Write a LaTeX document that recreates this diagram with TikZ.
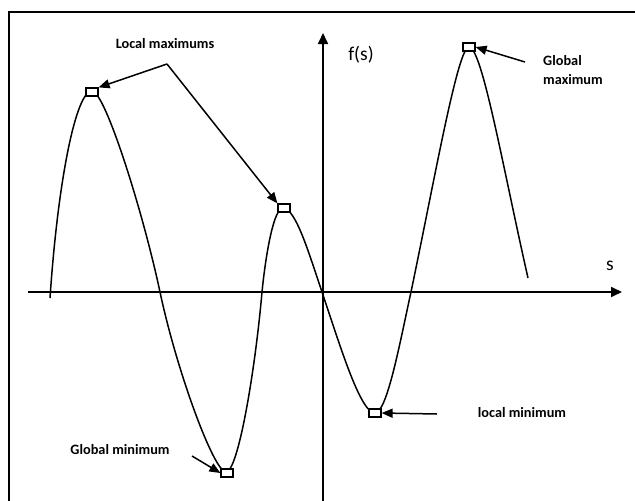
\documentclass[tikz,border=0pt]{standalone}
\usepackage{fontspec}
\setmainfont{Carlito}
\usetikzlibrary{arrows.meta}
\begin{document}
\begin{tikzpicture}[x=1pt,y=-1pt,
  frame/.style={line width=1.8pt},
  axis/.style={line width=1.7pt,-{Triangle[length=11pt,width=10pt]}},
  curve/.style={line width=1.5pt},
  marker/.style={draw,fill=white,line width=1.2pt,minimum width=12pt,minimum height=8pt,inner sep=0pt},
  arr/.style={line width=1.5pt,-{Triangle[length=11pt,width=9pt]}},
  lbl/.style={font=\fontsize{14.3}{19}\selectfont\bfseries,inner sep=0pt},
  axlbl/.style={font=\fontsize{19.5}{21}\selectfont,inner sep=0pt}]
\useasboundingbox (0,0) rectangle (635,501);
% partial frame
\draw[frame] (9,501) -- (9,12) -- (635,12);
% axes
\coordinate (xs) at (28,292);
\coordinate (xe) at (622,292);
\coordinate (ys) at (323,501);
\coordinate (ye) at (323,33);
\draw[axis] (xs) -- (xe);
\draw[axis] (ys) -- (ye);
\node[axlbl] (flab) at (361,55) {f(s)};
\node[axlbl] (slab) at (610,266) {s};
% curve
\draw[curve] (50,298) .. controls (58,180) and (76,91) .. (92,91)
  .. controls (105,91) and (143,212) .. (160,292)
  .. controls (177,372) and (214,472) .. (226,472)
  .. controls (238,472) and (255,372) .. (262,292)
  .. controls (266,252) and (274,208) .. (283,208)
  .. controls (296,208) and (310,257) .. (322,292)
  .. controls (339,342) and (360,413) .. (375,413)
  .. controls (387,413) and (400,342) .. (411,292)
  .. controls (436,172) and (458,47) .. (469,47)
  .. controls (482,47) and (503,168) .. (528,278);
% markers
\node[marker] (b1) at (92,92) {};
\node[marker] (b2) at (284,208) {};
\node[marker] (b3) at (227,473) {};
\node[marker] (b4) at (375,413) {};
\node[marker] (b5) at (469,47) {};
% labels
\node[lbl] (lmax) at (165,44) {Local maximums};
\node[lbl,align=left,anchor=north west] (gmax) at (543,55) {Global\\maximum};
\node[lbl] (gmin) at (120,450) {Global minimum};
\node[lbl] (lmin) at (522,413) {local minimum};
% arrows
\coordinate (apex) at (167,64);
\coordinate (gmaxs) at (525,62);
\coordinate (gmins) at (192,456);
\coordinate (lmins) at (437,414);
\draw[arr] (apex) -- (b1.north east);
\draw[arr] (apex) -- (b2.north west);
\draw[arr] (gmaxs) -- (b5.east);
\draw[arr] (gmins) -- (b3.west);
\draw[arr] (lmins) -- (b4.east);
\end{tikzpicture}
\end{document}
